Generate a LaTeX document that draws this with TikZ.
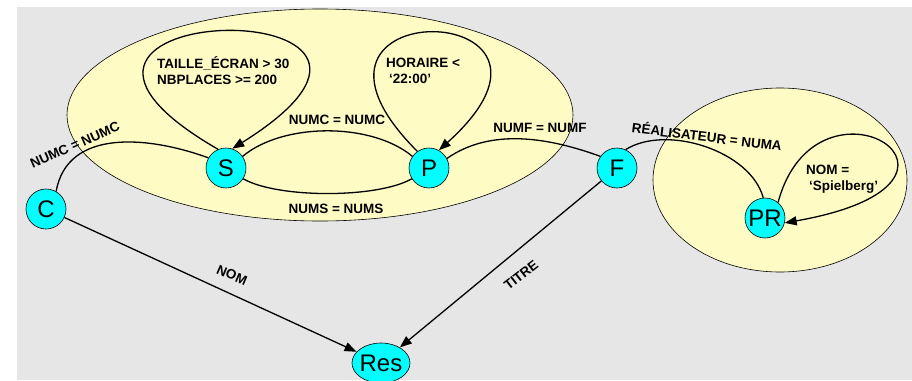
\documentclass[tikz,border=0pt]{standalone}
\usepackage{fontspec}
\setmainfont{Liberation Sans}
\usetikzlibrary{arrows.meta,shapes.geometric}

\definecolor{fondo}{RGB}{230,230,230}
\definecolor{giallo}{RGB}{255,251,196}
\definecolor{ciano}{RGB}{0,255,255}

\tikzset{
  rel/.style={circle, draw, fill=ciano, line width=0.6pt, minimum size=40pt, inner sep=0pt,
    font=\fontsize{24}{26}\selectfont},
  cond/.style={inner sep=0pt, font=\fontsize{13.5}{16}\selectfont\bfseries},
  jointure/.style={line width=1.3pt},
  flow/.style={line width=1.3pt, -{Triangle[length=12pt,width=9pt]}}
}

\begin{document}
\begin{tikzpicture}[x=1pt, y=1pt]
  \useasboundingbox (0,0) rectangle (912,-380);
  % Sfondo
  \fill[fondo] (17,-7) rectangle (912,-380);
  \draw[fill=giallo, line width=0.6pt] (320,-115) ellipse [x radius=253, y radius=106];
  \draw[fill=giallo, line width=0.6pt] (780,-180) ellipse [x radius=127, y radius=92];

  % Relazioni
  \node[rel] (S) at (226,-168) {S};
  \node[rel] (P) at (429,-168) {P};
  \node[rel] (C) at (46,-209) {C};
  \node[rel] (F) at (617,-168) {F};
  \node[rel] (PR) at (765,-218) {\makebox[30pt]{PR}};
  \node[rel, ellipse, minimum width=58pt, minimum height=40pt] (Res) at (381,-363) {\makebox[40pt]{Res}};

  % Jointures
  \draw[jointure] (C.60) to[out=80, in=160, looseness=1.05] (S.150);
  \draw[jointure] (S.35) to[out=40, in=140, looseness=0.8] (P.145);
  \draw[jointure] (S.-32) to[out=-30, in=-150, looseness=0.6] (P.-148);
  \draw[jointure] (P.28) to[out=35, in=160, looseness=0.9] (F.145);
  \draw[jointure] (F.65) to[out=32, in=105, looseness=0.85] (PR.95);

  % Selections
  \draw[flow] (S.113) .. controls +(150:305) and +(32:305) .. (S.72);
  \draw[flow] (P.125) .. controls +(135:229) and +(42:229) .. (P.61);
  \draw[flow] (PR.50) .. controls +(75:150) and +(10:235) .. (PR.-14);

  % Projections
  \draw[flow] (C) -- (Res);
  \draw[flow] (F) -- (Res);

  % Etiquettes
  \node[cond, rotate=24] (lCS) at (75,-145) {NUMC = NUMC};
  \node[cond] (lSPa) at (337,-120) {NUMC = NUMC};
  \node[cond] (lSPb) at (336,-209) {NUMS = NUMS};
  \node[cond] (lPF) at (540,-128) {NUMF = NUMF};
  \node[cond, rotate=-7] (lFPR) at (707,-136) {RÉALISATEUR = NUMA};
  \node[cond, anchor=west, align=left] (lS) at (157,-71) {TAILLE\_ÉCRAN > 30\\NBPLACES >= 200};
  \node[cond, anchor=west, align=left] (lP) at (386,-71) {HORAIRE <\\\hspace{3pt}‘22:00’};
  \node[cond, anchor=west, align=left] (lPR) at (806,-179) {NOM =\\\hspace{3pt}‘Spielberg’};
  \node[cond, rotate=-23] (lC) at (232,-275) {NOM};
  \node[cond, rotate=38] (lF) at (521,-275) {TITRE};
\end{tikzpicture}
\end{document}
